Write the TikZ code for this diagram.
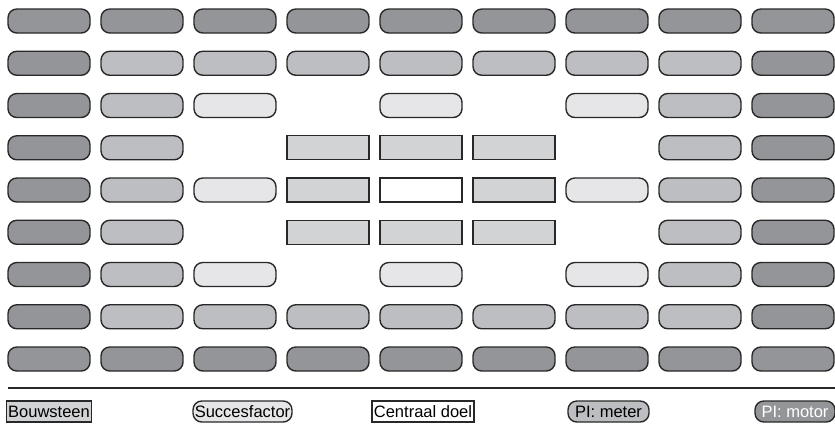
\documentclass[tikz,border=0pt]{standalone}
\usepackage{fontspec}
\setmainfont{Liberation Sans}
\usetikzlibrary{positioning}
\definecolor{MotorGrey}{RGB}{148,149,153}
\definecolor{MeterGrey}{RGB}{189,190,194}
\definecolor{FactorGrey}{RGB}{230,230,232}
\definecolor{BlockGrey}{RGB}{210,211,213}
\definecolor{EdgeGrey}{RGB}{40,40,40}
\tikzset{
  cell/.style={draw=EdgeGrey,line width=0.8pt,minimum width=1.64cm,
    minimum height=0.48cm,inner sep=0pt},
  motor/.style={cell,fill=MotorGrey,rounded corners=5pt},
  meter/.style={cell,fill=MeterGrey,rounded corners=5pt},
  factor/.style={cell,fill=FactorGrey,rounded corners=5pt},
  block/.style={cell,fill=BlockGrey},
  goal/.style={cell,fill=white},
  key/.style={draw=EdgeGrey,line width=0.8pt,inner sep=1pt,
    minimum height=0.42cm,font=\fontsize{9.4}{10}\selectfont}
}
\def\nocell{none}

\begin{document}
\begin{tikzpicture}[x=0.02cm,y=-0.02cm]
  \useasboundingbox (0,0) rectangle (835,424);
  % grid of building blocks
  \foreach \row [count=\r from 0] in {
      {motor,motor,motor,motor,motor,motor,motor,motor,motor},
      {motor,meter,meter,meter,meter,meter,meter,meter,motor},
      {motor,meter,factor,none,factor,none,factor,meter,motor},
      {motor,meter,none,block,block,block,none,meter,motor},
      {motor,meter,factor,block,goal,block,factor,meter,motor},
      {motor,meter,none,block,block,block,none,meter,motor},
      {motor,meter,factor,none,factor,none,factor,meter,motor},
      {motor,meter,meter,meter,meter,meter,meter,meter,motor},
      {motor,motor,motor,motor,motor,motor,motor,motor,motor}}{
    \foreach \kind [count=\c from 0] in \row {
      \edef\thiskind{\kind}
      \ifx\thiskind\nocell\else
        \node[\kind] (c-\r-\c) at ({49+93*\c},{21+42.25*\r}) {};
      \fi
    }
  }
  % legend
  \draw[line width=1.1pt,draw=EdgeGrey] (8,388) -- (835,388);
  \node[key,fill=BlockGrey] (keyblock) at (49,411.5) {Bouwsteen};
  \node[key,fill=FactorGrey,rounded corners=5pt] (keyfactor) at (242.5,411.5) {Succesfactor};
  \node[key,fill=white] (keygoal) at (423,411.5) {Centraal doel};
  \node[key,fill=MeterGrey,rounded corners=5pt,minimum width=1.62cm] (keymeter) at (608.5,411.5) {PI: meter};
  \node[key,fill=MotorGrey,rounded corners=5pt,minimum width=1.6cm,text=white] (keymotor) at (795,411.5) {PI: motor};
\end{tikzpicture}
\end{document}
